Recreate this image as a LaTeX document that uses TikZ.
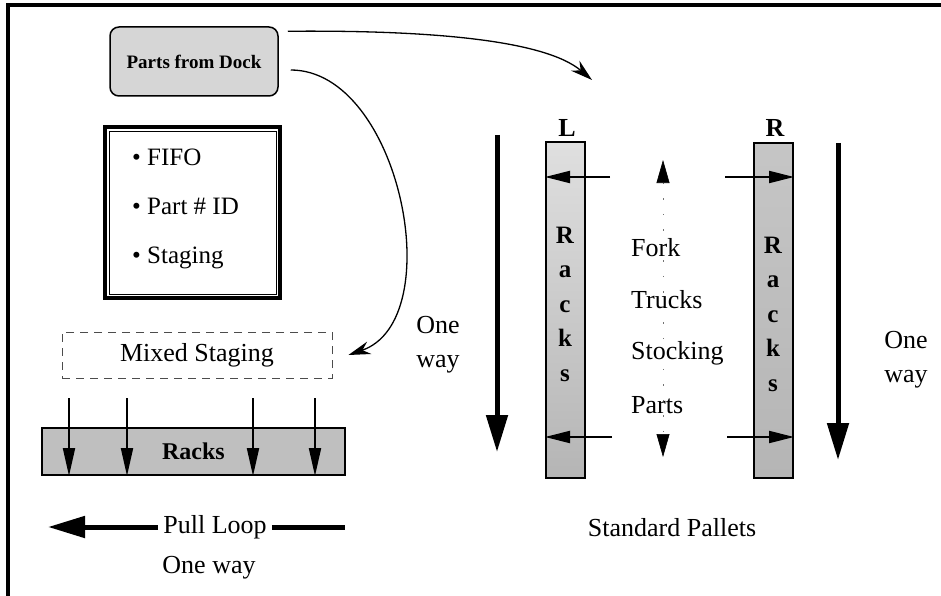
\documentclass[tikz,border=0pt]{standalone}
\usepackage{fontspec}
\setmainfont{Liberation Serif}
\usetikzlibrary{arrows.meta,calc}

\begin{document}
\begin{tikzpicture}[x=1pt, y=-1pt,
    dockbox/.style={rectangle, draw, line width=1.5pt, rounded corners=9pt, fill=gray!32, minimum width=168pt, minimum height=69pt, font=\fontsize{19}{21}\selectfont\bfseries},
    listbox/.style={rectangle, draw, line width=4pt, minimum width=175pt, minimum height=171pt},
    stagebox/.style={rectangle, draw=black!70, dash pattern=on 8pt off 6pt, line width=0.8pt, minimum width=270pt, minimum height=46pt},
    rackbar/.style={rectangle, draw, line width=2pt, fill=gray!50, minimum width=303pt, minimum height=47pt, font=\fontsize{24}{26}\selectfont\bfseries},
    rackcol/.style={rectangle, draw, line width=2pt, minimum width=39pt, minimum height=335pt},
    letters/.style={align=center, inner sep=0pt, font=\fontsize{25}{34.5}\selectfont\bfseries},
    label/.style={inner sep=2pt, align=left, font=\fontsize{26}{34}\selectfont},
    feed/.style={-{Triangle[length=28pt, width=12pt]}, line width=2pt},
    way/.style={-{Triangle[length=37pt, width=21pt]}, line width=5pt},
    route/.style={-{Stealth[length=22pt, width=13pt]}, line width=1.3pt}
]
\useasboundingbox (0,0) rectangle (941,596);

% Frame
\draw[line width=3.5pt] (941,5) -- (8,5) -- (8,596);

% Left side: dock, notes, staging
\node[dockbox] (dock) at (194,61.5) {Parts from Dock};
\node[listbox] (list) at (192.5,212.5) {};
\draw[line width=0.8pt] ([shift={(6,6)}]list.north west) rectangle ([shift={(-6,-6)}]list.south east);
\node[label, anchor=west, font=\fontsize{25}{49}\selectfont] (listtext) at (130,209) {\textbullet\ FIFO\\\textbullet\ Part \# ID\\\textbullet\ Staging};
\node[stagebox, label] (staging) at (197,355) {Mixed Staging};
\node[rackbar] (racks) at (193.5,451.5) {Racks};

% Feeds from staging to racks
\coordinate (f1) at (69,398);
\coordinate (f2) at (127,398);
\coordinate (f3) at (253,398);
\coordinate (f4) at (315,398);
\draw[feed] (f1) -- (f1 |- racks.south);
\draw[feed] (f2) -- (f2 |- racks.south);
\draw[feed] (f3) -- (f3 |- racks.south);
\draw[feed] (f4) -- (f4 |- racks.south);

% Pull loop
\node[label, inner sep=5pt] (pull) at (215,527) {Pull Loop};
\coordinate (pullend) at (48,527);
\coordinate (pulltail) at (345,527);
\draw[way] (pull.west) -- (pullend);
\draw[line width=5pt] (pull.east) -- (pulltail);
\node[label] (oneway1) at (209,568) {One way};

% Routes from the dock
\coordinate (droptip) at (592,80);
\draw[route] ([xshift=9pt, yshift=-5pt]dock.north east) .. controls (430,30) and (545,40) .. (droptip);
\draw[route] ([xshift=12pt, yshift=-8.5pt]dock.east) .. controls (400,70) and (450,320) .. ([xshift=16pt]staging.east);
\node[label] (oneway2) at (438,345) {One\\way};

% Right side: rack columns
\node[rackcol, top color=gray!25, bottom color=gray!58] (rackL) at (565.5,310) {};
\node[rackcol, top color=gray!45, bottom color=gray!58] (rackR) at (773.5,310.5) {};
\node[letters] (lettersL) at (565,304) {R\\a\\c\\k\\s};
\node[letters] (lettersR) at (773,314) {R\\a\\c\\k\\s};
\node[label, font=\fontsize{26}{28}\selectfont\bfseries] (labL) at (567,128) {L};
\node[label, font=\fontsize{26}{28}\selectfont\bfseries] (labR) at (775,128) {R};

% One way aisles
\coordinate (wL1) at (497,135);
\coordinate (wL2) at (497,452);
\coordinate (wR1) at (838,143);
\coordinate (wR2) at (838,460);
\draw[way] (wL1) -- (wL2);
\draw[way] (wR1) -- (wR2);
\node[label] (oneway3) at (906,360) {One\\way};

% Fork trucks stocking
\coordinate (up) at (663,160);
\coordinate (down) at (663,457);
\draw[black!55, line width=0.6pt, dash pattern=on 1.5pt off 14pt, {Triangle[length=23pt, width=13pt, black]}-{Triangle[length=23pt, width=13pt, black]}] (up) -- (down);
\node[label, anchor=west] (fork) at (629,248) {Fork};
\node[label, anchor=west] (trucks) at (629,300) {Trucks};
\node[label, anchor=west] (stocking) at (629,353) {Stocking};
\node[label, anchor=west] (partsT) at (629,405) {Parts};

\coordinate (tl) at (610,177);
\coordinate (tr) at (725,177);
\coordinate (bl) at (612,437);
\coordinate (br) at (727,437);
\draw[feed, -{Triangle[length=25pt, width=12pt]}] (tl) -- (tl -| rackL.west);
\draw[feed, -{Triangle[length=25pt, width=12pt]}] (tr) -- (tr -| rackR.east);
\draw[feed, -{Triangle[length=25pt, width=12pt]}] (bl) -- (bl -| rackL.west);
\draw[feed, -{Triangle[length=25pt, width=12pt]}] (br) -- (br -| rackR.east);

\node[label] (pallets) at (672,528) {Standard Pallets};

\end{tikzpicture}
\end{document}
